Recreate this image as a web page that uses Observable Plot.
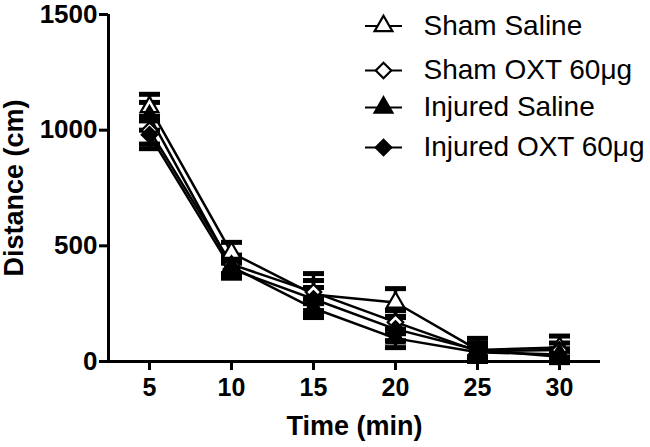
<!DOCTYPE html>
<html>
<head>
<meta charset="utf-8">
<script src="https://cdn.jsdelivr.net/npm/d3@7"></script>
<script src="https://cdn.jsdelivr.net/npm/@observablehq/plot@0.6"></script>
<style>
  html, body { margin: 0; padding: 0; background: #fff; }
</style>
</head>
<body>
<div id="chart"></div>
<script>
// ---- data ----
const times = [5, 10, 15, 20, 25, 30];
const seriesNames = ["Sham Saline", "Sham OXT 60\u03BCg", "Injured Saline", "Injured OXT 60\u03BCg"];
const shamSaline      = [1100, 470, 290, 255, 50, 60];
const shamSalineErr   = [55, 45, 90, 60, 50, 50];
const shamOXT         = [1000, 420, 300, 170, 45, 50];
const shamOXTErr      = [60, 40, 50, 50, 25, 30];
const injuredSaline   = [1060, 410, 230, 100, 40, 30];
const injuredSalineErr= [60, 40, 40, 40, 25, 25];
const injuredOXT      = [980, 400, 270, 140, 50, 20];
const injuredOXTErr   = [60, 40, 50, 50, 30, 25];
const yTicks = [0, 500, 1000, 1500];
const xTicks = [5, 10, 15, 20, 25, 30];

const values = [shamSaline, shamOXT, injuredSaline, injuredOXT];
const errors = [shamSalineErr, shamOXTErr, injuredSalineErr, injuredOXTErr];
const symbols = ["triangle", "diamond2", "triangle", "diamond2"];
const fills = ["white", "white", "black", "black"];
const radii = [6.6, 7, 6.6, 7];

const rows = [];
seriesNames.forEach((s, i) => {
  times.forEach((t, j) => {
    rows.push({series: s, idx: i, t, v: values[i][j], e: errors[i][j]});
  });
});

const hline = {draw(ctx) { ctx.moveTo(-18.5, 0); ctx.lineTo(18.5, 0); }};
const cap = {draw(ctx) { ctx.moveTo(-10.5, 0); ctx.lineTo(10.5, 0); }};

const legendY = [25.5, 70, 107, 147];
const marginLeft = 108, marginTop = 14;
const FONT = "'Liberation Sans', Arial, sans-serif";

const marks = [];
// series lines
seriesNames.forEach((s, i) => {
  marks.push(Plot.line(rows.filter(d => d.idx === i), {x: "t", y: "v", stroke: "black", strokeWidth: 2.5}));
});
// error bars
marks.push(Plot.ruleX(rows, {x: "t", y1: d => d.v - d.e, y2: d => d.v + d.e, stroke: "black", strokeWidth: 3.5}));
marks.push(Plot.dot(rows, {x: "t", y: d => d.v + d.e, symbol: cap, stroke: "black", strokeWidth: 5}));
marks.push(Plot.dot(rows, {x: "t", y: d => d.v - d.e, symbol: cap, stroke: "black", strokeWidth: 5}));
// markers
seriesNames.forEach((s, i) => {
  marks.push(Plot.dot(rows.filter(d => d.idx === i), {
    x: "t", y: "v", symbol: symbols[i], r: radii[i], fill: fills[i], stroke: "black", strokeWidth: 2.2
  }));
});
// axes
marks.push(Plot.axisY({ticks: yTicks, tickFormat: "d", tickSize: 9, tickPadding: 2, strokeWidth: 3, fontSize: 26, fontWeight: "bold", fontFamily: FONT, label: null}));
marks.push(Plot.axisX({ticks: xTicks, tickFormat: "d", tickSize: 9, tickPadding: 8, strokeWidth: 3, fontSize: 25, fontWeight: "bold", fontFamily: FONT, label: null}));
marks.push(Plot.ruleX([2.5], {y1: 0, y2: 1500, stroke: "black", strokeWidth: 3}));
marks.push(Plot.ruleY([0], {x1: 2.5, x2: 32.5, stroke: "black", strokeWidth: 3}));
// axis titles
marks.push(Plot.text(["Distance (cm)"], {frameAnchor: "left", rotate: -90, dx: -94, textAnchor: "middle", lineAnchor: "middle", text: d => d, fontSize: 27, fontWeight: "bold", fontFamily: FONT}));
marks.push(Plot.text(["Time (min)"], {frameAnchor: "bottom", dy: 65, textAnchor: "middle", lineAnchor: "middle", text: d => d, fontSize: 27, fontWeight: "bold", fontFamily: FONT}));
// legend
seriesNames.forEach((s, i) => {
  marks.push(Plot.dot([s], {frameAnchor: "top-left", dx: 383 - marginLeft, dy: legendY[i] - marginTop, symbol: hline, stroke: "black", strokeWidth: 2.2}));
  marks.push(Plot.dot([s], {frameAnchor: "top-left", dx: 383 - marginLeft, dy: legendY[i] - marginTop, symbol: symbols[i], r: radii[i], fill: fills[i], stroke: "black", strokeWidth: 2.2}));
  marks.push(Plot.text([s], {frameAnchor: "top-left", dx: 423 - marginLeft, dy: legendY[i] - marginTop, text: d => d, textAnchor: "start", lineAnchor: "middle", fontSize: 28, fontWeight: "normal", fontFamily: FONT}));
});

const chart = Plot.plot({
  width: 650,
  height: 447,
  marginLeft, marginRight: 50, marginTop, marginBottom: 86,
  x: {domain: [2.5, 32.5], axis: null},
  y: {domain: [0, 1500], axis: null},
  style: {fontFamily: FONT, color: "black", background: "white", overflow: "visible"},
  marks
});
document.getElementById("chart").appendChild(chart);
</script>
</body>
</html>
